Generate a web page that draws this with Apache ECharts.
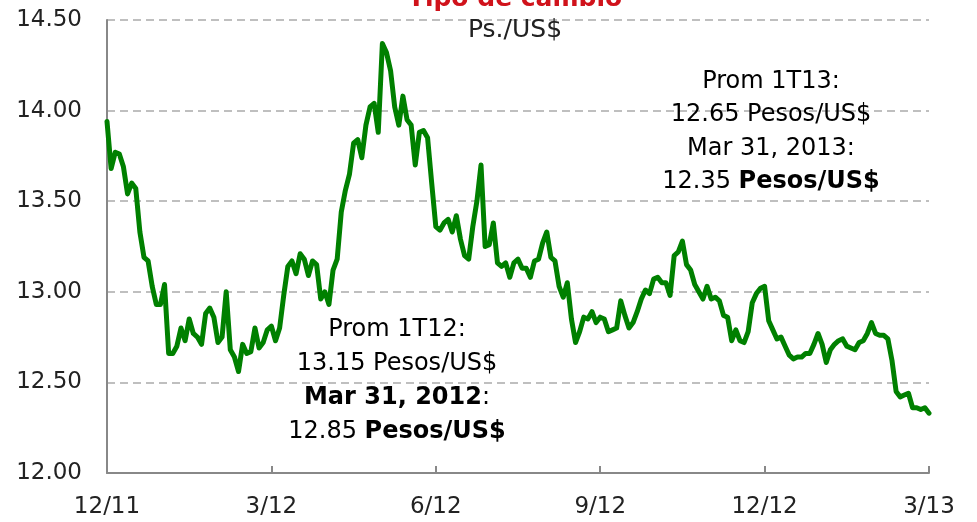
<!DOCTYPE html>
<html>
<head>
<meta charset="utf-8">
<script src="https://cdn.jsdelivr.net/npm/echarts@6/dist/echarts.min.js"></script>
<style>
  html, body { margin: 0; padding: 0; background: #fff; }
  #chart { width: 977px; height: 522px; }
</style>
</head>
<body>
<div id="chart"></div>
<script>
var chart = echarts.init(document.getElementById('chart'));

// quarter labels, one every 40 points
const tickLabels = ['12/11', '3/12', '6/12', '9/12', '12/12', '3/13'];
const tickStep = 40;

// Ps./US$ exchange rate
const rate = [
  13.94, 13.68, 13.77, 13.76, 13.69, 13.54, 13.60, 13.57, 13.33, 13.19,
  13.17, 13.03, 12.93, 12.93, 13.04, 12.66, 12.66, 12.70, 12.80, 12.73,
  12.85, 12.77, 12.75, 12.71, 12.88, 12.91, 12.86, 12.72, 12.75, 13.00,
  12.68, 12.64, 12.56, 12.71, 12.66, 12.67, 12.80, 12.69, 12.72, 12.79,
  12.81, 12.73, 12.80, 12.98, 13.14, 13.17, 13.10, 13.21, 13.18, 13.09,
  13.17, 13.15, 12.96, 13.00, 12.93, 13.12, 13.18, 13.44, 13.56, 13.65,
  13.82, 13.84, 13.74, 13.92, 14.02, 14.04, 13.88, 14.37, 14.32, 14.22,
  14.02, 13.92, 14.08, 13.95, 13.92, 13.70, 13.88, 13.89, 13.85, 13.60,
  13.36, 13.34, 13.38, 13.40, 13.33, 13.42, 13.29, 13.20, 13.18, 13.36,
  13.50, 13.70, 13.25, 13.26, 13.38, 13.16, 13.14, 13.16, 13.08, 13.16,
  13.18, 13.13, 13.13, 13.08, 13.17, 13.18, 13.27, 13.33, 13.19, 13.17,
  13.03, 12.97, 13.05, 12.85, 12.72, 12.78, 12.86, 12.85, 12.89, 12.83,
  12.86, 12.85, 12.78, 12.79, 12.80, 12.95, 12.87, 12.80, 12.83, 12.89,
  12.96, 13.01, 12.99, 13.07, 13.08, 13.05, 13.05, 12.98, 13.20, 13.22,
  13.28, 13.15, 13.12, 13.04, 13.00, 12.96, 13.03, 12.96, 12.97, 12.95,
  12.87, 12.86, 12.73, 12.79, 12.73, 12.72, 12.78, 12.94, 12.99, 13.02,
  13.03, 12.84, 12.79, 12.74, 12.75, 12.70, 12.65, 12.63, 12.64, 12.64,
  12.66, 12.66, 12.71, 12.77, 12.71, 12.61, 12.68, 12.71, 12.73, 12.74,
  12.70, 12.69, 12.68, 12.72, 12.73, 12.77, 12.83, 12.77, 12.76, 12.76,
  12.74, 12.62, 12.45, 12.42, 12.43, 12.44, 12.36, 12.36, 12.35, 12.36,
  12.33
];

const font = 'DejaVu Sans';
const noteRich = function (lh) {
  return {
    n: { fontFamily: font, fontSize: 24, color: '#111', lineHeight: lh },
    b: { fontFamily: font, fontSize: 24, color: '#111', fontWeight: 'bold', lineHeight: lh }
  };
};

var option = {
  animation: false,
  title: {
    text: 'Tipo de cambio',
    subtext: 'Ps./US$',
    left: 510,
    top: -18,
    textAlign: 'center',
    itemGap: 6,
    textStyle: { color: '#d0121b', fontFamily: font, fontSize: 25, fontWeight: 'bold' },
    subtextStyle: { color: '#222', fontFamily: font, fontSize: 25 }
  },
  grid: { left: 107, right: 48, top: 20, bottom: 49 },
  xAxis: {
    type: 'value',
    min: 0,
    max: (tickLabels.length - 1) * tickStep,
    interval: tickStep,
    axisLine: { show: true, lineStyle: { color: '#888', width: 2 } },
    axisTick: { show: true, inside: true, length: 7, lineStyle: { color: '#888', width: 2 } },
    axisLabel: {
      margin: 23,
      color: '#222',
      fontFamily: font,
      fontSize: 23,
      formatter: function (v) { return tickLabels[Math.round(v / tickStep)]; }
    },
    splitLine: { show: false }
  },
  yAxis: {
    type: 'value',
    min: 12,
    max: 14.5,
    interval: 0.5,
    axisLine: { show: true, lineStyle: { color: '#888', width: 2 } },
    axisTick: { show: false },
    axisLabel: {
      margin: 25,
      color: '#222',
      fontFamily: font,
      fontSize: 23,
      formatter: function (v) { return v.toFixed(2); }
    },
    splitLine: { show: true, lineStyle: { color: '#aaa', width: 1.5, type: [8, 5] } }
  },
  series: [{
    type: 'line',
    data: rate.map(function (v, i) { return [i, v]; }),
    showSymbol: false,
    lineStyle: { color: '#008000', width: 5, join: 'round', cap: 'round' },
    z: 3
  }],
  graphic: [
    {
      type: 'text',
      x: 397, y: 313,
      style: {
        align: 'center',
        verticalAlign: 'top',
        text: '{n|Prom 1T12:}\n{n|13.15 Pesos/US$}\n{b|Mar 31, 2012}{n|:}\n{n|12.85 }{b|Pesos/US$}',
        rich: noteRich(34)
      },
      z: 10
    },
    {
      type: 'text',
      x: 771, y: 65,
      style: {
        align: 'center',
        verticalAlign: 'top',
        text: '{n|Prom 1T13:}\n{n|12.65 Pesos/US$}\n{n|Mar 31, 2013:}\n{n|12.35 }{b|Pesos/US$}',
        rich: noteRich(33.5)
      },
      z: 10
    }
  ]
};

chart.setOption(option);
</script>
</body>
</html>
